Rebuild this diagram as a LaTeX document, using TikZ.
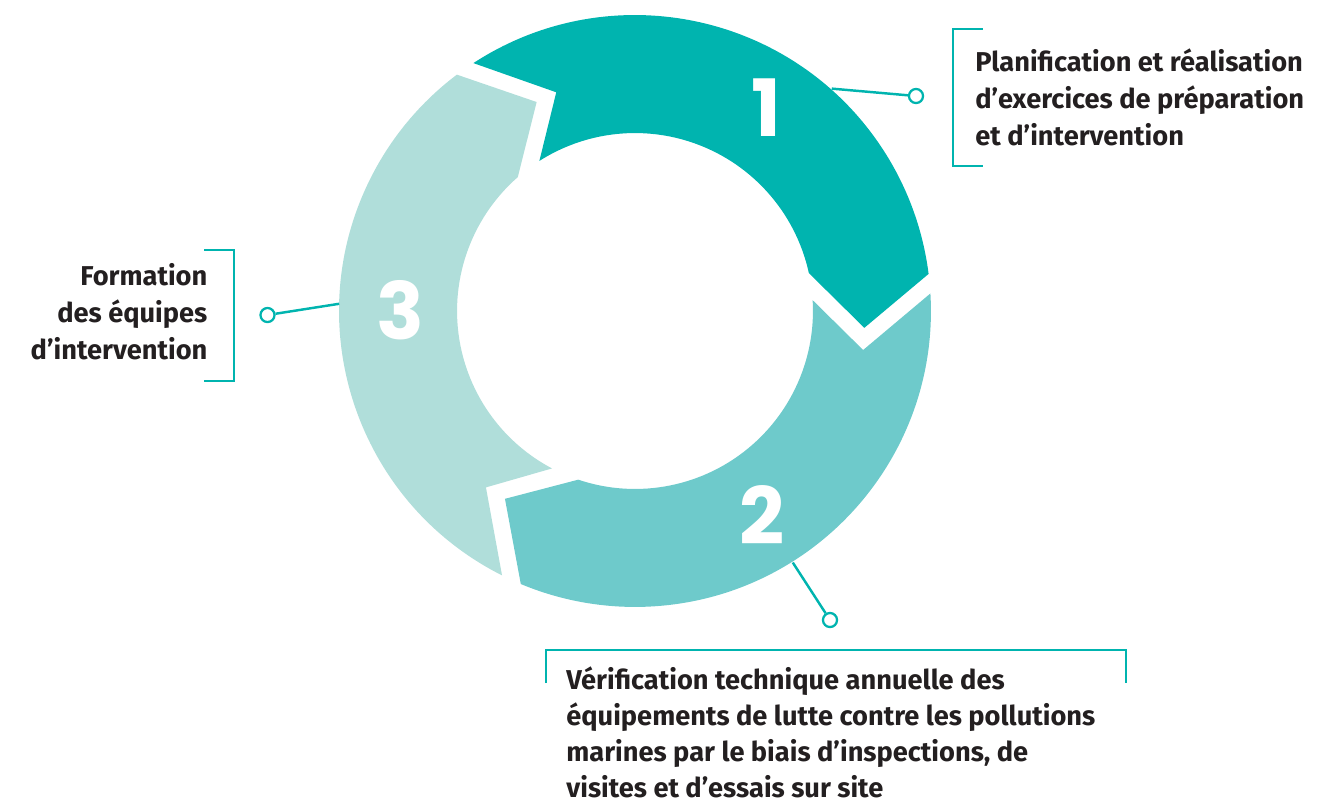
\documentclass[tikz,border=0pt]{standalone}
\usepackage{fontspec}
\setmainfont{Fira Sans}
\newfontfamily\numfont{Poppins}
\usetikzlibrary{calc}
\definecolor{tealA}{HTML}{00B4AF}
\definecolor{tealB}{HTML}{6ECACB}
\definecolor{tealC}{HTML}{B0DEDA}
\definecolor{ink}{HTML}{231F20}
\begin{document}
\begin{tikzpicture}[x=0.02cm,y=0.02cm,
  conn/.style={draw=tealA, line width=1.4pt},
  brk/.style={draw=tealA, line width=1.2pt},
  dot/.style={circle, draw=tealA, line width=1.3pt, fill=white, minimum size=8pt, inner sep=0pt},
  num/.style={text=white, font=\numfont\bfseries\fontsize{45}{45}\selectfont, inner sep=0pt},
  lab/.style={text=ink, font=\bfseries\fontsize{15.5}{21}\selectfont, inner sep=0pt}
]
\useasboundingbox (0,0) rectangle (1323,-806);
\coordinate (C) at (635,-311);

% segment 1 (dark)
\fill[tealA] ($(C)+(123.1:5.92cm)$) arc[start angle=123.1, end angle=7.2, radius=5.92cm]
  -- ($(C)+(-4.2:4.6cm)$) -- ($(C)+(12.3:3.56cm)$)
  arc[start angle=12.3, end angle=122.5, radius=3.56cm]
  -- ($(C)+(109.8:4.65cm)$) -- cycle;
% segment 2 (medium)
\fill[tealB] ($(C)+(3.4:5.92cm)$) arc[start angle=3.4, end angle=-112.7, radius=5.92cm]
  -- ($(C)+(-124.7:4.57cm)$) -- ($(C)+(-108.6:3.56cm)$)
  arc[start angle=-108.6, end angle=3.5, radius=3.56cm]
  -- ($(C)+(-9.7:4.63cm)$) -- cycle;
% segment 3 (light)
\fill[tealC] ($(C)+(243.3:5.92cm)$) arc[start angle=243.3, end angle=127, radius=5.92cm]
  -- ($(C)+(115.2:4.62cm)$) -- ($(C)+(131.2:3.56cm)$)
  arc[start angle=131.2, end angle=242.2, radius=3.56cm]
  -- ($(C)+(229.8:4.62cm)$) -- cycle;

% numbers
\node[num] (n1) at (766,-108) {1};
\node[num] (n2) at (762,-515) {2};
\node[num] (n3) at (400,-310) {3};

% connectors
\coordinate (e1) at ($(C)+(48.5:5.94cm)$);
\coordinate (e2) at ($(C)+(-57.9:5.94cm)$);
\coordinate (e3) at ($(C)+(178.6:5.92cm)$);
\node[dot] (d1) at (916,-96) {};
\node[dot] (d2) at (830,-620) {};
\node[dot] (d3) at (267.5,-315) {};
\draw[conn] (e1) -- (d1);
\draw[conn] (e2) -- (d2);
\draw[conn] (e3) -- (d3);

% brackets
\draw[brk] (982.7,-29.3) -- (953.3,-29.3) -- (953.3,-165.7) -- (982.7,-165.7);
\draw[brk] (546,-683) -- (546,-650) -- (1126,-650) -- (1126,-683);
\draw[brk] (204.3,-250) -- (234.3,-250) -- (234.3,-380.7) -- (204.3,-380.7);

% labels
\node[lab, anchor=north west, align=left] (t1) at (975,-46.5)
  {\rule{0pt}{0.9em}Planification et réalisation\\d’exercices de préparation\\et d’intervention};
\node[lab, anchor=north west, align=left, font=\bfseries\fontsize{15.5}{20.6}\selectfont] (t2) at (566,-664.4)
  {\rule{0pt}{0.9em}Vérification technique annuelle des\\équipements de lutte contre les pollutions\\marines par le biais d’inspections, de\\visites et d’essais sur site};
\node[lab, anchor=north east, align=right] (t3) at (207.7,-260.4)
  {\rule{0pt}{0.9em}Formation\\des équipes\\d’intervention};
\end{tikzpicture}
\end{document}
